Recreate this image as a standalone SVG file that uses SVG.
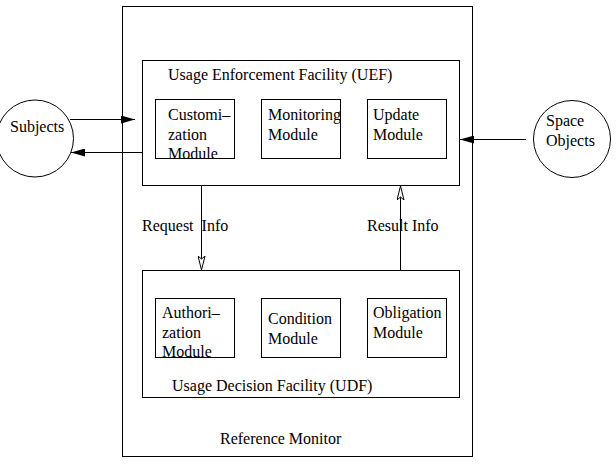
<svg xmlns="http://www.w3.org/2000/svg" width="616" height="464" viewBox="0 0 616 464">
<style>
.b{fill:none;stroke:#000;stroke-width:1}
.l{fill:none;stroke:#000;stroke-width:1}
text{font-family:"Liberation Serif","Times New Roman",serif;font-size:16px;fill:#000}
</style>
<defs>
<marker id="fa" markerWidth="14" markerHeight="8" refX="14" refY="4" orient="auto" markerUnits="userSpaceOnUse">
<path d="M0,0 L14,4 L0,8 Z" fill="#000"/>
</marker>
<marker id="oa" markerWidth="14" markerHeight="8" refX="14" refY="4" orient="auto" markerUnits="userSpaceOnUse">
<path d="M0,0.5 L14,4 L0,7.5 L3,4 Z" fill="#fff" stroke="#000" stroke-width="1"/>
</marker>
</defs>
<rect width="616" height="464" fill="#fff"/>
<g id="reference-monitor">
<rect class="b" x="122.5" y="6.5" width="350" height="450"/>
<text x="220" y="444">Reference Monitor</text>
</g>
<g id="uef">
<rect class="b" x="142.5" y="60.5" width="317" height="125"/>
<text x="168" y="80">Usage Enforcement Facility (UEF)</text>
</g>
<g id="customization">
<rect class="b" x="155.5" y="99.5" width="79" height="59"/>
<text x="168" y="120">Customi–</text>
<text x="168" y="140">zation</text>
<text x="168" y="159">Module</text>
</g>
<g id="monitoring">
<rect class="b" x="261.5" y="99.5" width="79" height="59"/>
<text x="268" y="120">Monitoring</text>
<text x="268" y="140">Module</text>
</g>
<g id="update">
<rect class="b" x="367.5" y="99.5" width="79" height="59"/>
<text x="373" y="120">Update</text>
<text x="373" y="140">Module</text>
</g>
<g id="udf">
<rect class="b" x="142.5" y="270.5" width="317" height="127"/>
<text x="172" y="391">Usage Decision Facility (UDF)</text>
</g>
<g id="authorization">
<rect class="b" x="155.5" y="298.5" width="79" height="59"/>
<text x="162" y="318">Authori–</text>
<text x="162" y="338">zation</text>
<text x="162" y="357">Module</text>
</g>
<g id="condition">
<rect class="b" x="261.5" y="298.5" width="79" height="59"/>
<text x="268" y="324">Condition</text>
<text x="268" y="344">Module</text>
</g>
<g id="obligation">
<rect class="b" x="367.5" y="298.5" width="79" height="59"/>
<text x="373" y="318">Obligation</text>
<text x="373" y="338">Module</text>
</g>
<g id="subjects">
<circle class="b" cx="35" cy="138.5" r="38.5"/>
<text x="10" y="132">Subjects</text>
</g>
<g id="space-objects">
<circle class="b" cx="572" cy="139" r="38.5"/>
<text x="546" y="126">Space</text>
<text x="546" y="146">Objects</text>
</g>
<g id="connectors">
<line class="l" x1="70" y1="119.5" x2="135" y2="119.5" marker-end="url(#fa)"/>
<line class="l" x1="142" y1="152.5" x2="71" y2="152.5" marker-end="url(#fa)"/>
<line class="l" x1="526" y1="139.5" x2="460" y2="139.5" marker-end="url(#fa)"/>
<line class="l" x1="201.5" y1="186" x2="201.5" y2="270" marker-end="url(#oa)"/>
<line class="l" x1="400.5" y1="270" x2="400.5" y2="186" marker-end="url(#oa)"/>
<text x="142" y="231" xml:space="preserve" style="white-space:pre">Request  Info</text>
<text x="367" y="231">Result Info</text>
</g>
</svg>
